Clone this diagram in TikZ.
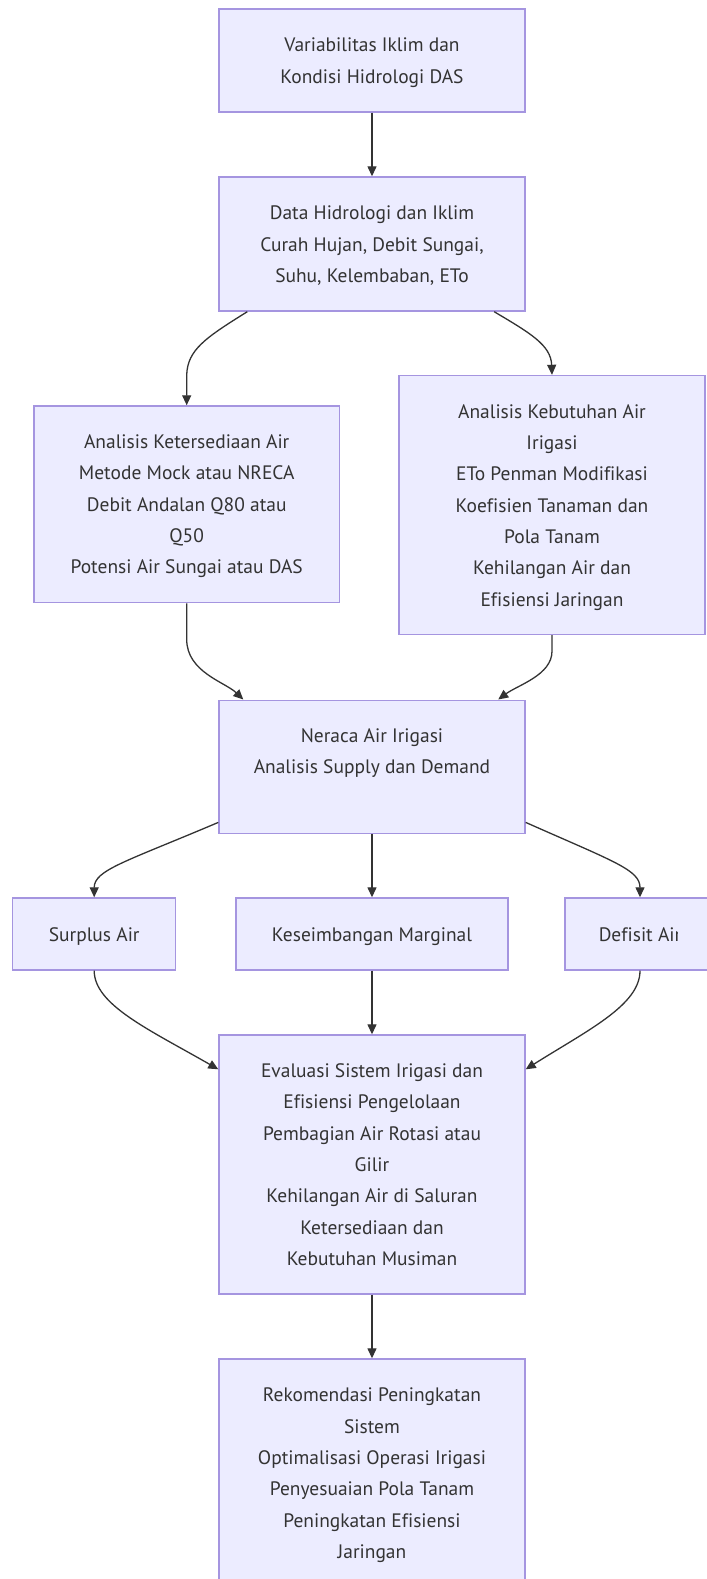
\documentclass[tikz,border=0pt]{standalone}
\usepackage{fontspec}
\setmainfont{PT Sans}[Ligatures=NoCommon]
\usetikzlibrary{arrows.meta,calc}
\definecolor{nodefill}{HTML}{ECECFF}
\definecolor{nodeborder}{HTML}{A595E0}
\definecolor{inkc}{HTML}{333333}
\newcommand\fl{\rule{0pt}{14pt}}
\newcommand\lst{\rule[-3.5pt]{0pt}{3.5pt}}
\tikzset{
  box/.style={rectangle, draw=nodeborder, fill=nodefill, line width=1.05pt,
    text=inkc, align=center, inner sep=0pt,
    font=\fontsize{14.6pt}{23.5pt}\selectfont},
  boxtext/.style={text=inkc, align=center, inner sep=0pt,
    font=\fontsize{14.6pt}{23.5pt}\selectfont},
  conn/.style={draw=inkc, line width=0.975pt,
    -{Triangle[length=7.5pt,width=6.75pt]}},
}
\begin{document}
\begin{tikzpicture}[x=0.75pt,y=-0.75pt]
\clip (0,0) rectangle (707,1579);
\fill[white] (0,0) rectangle (707,1579);

\node[box, minimum width=229.5pt, minimum height=77.25pt] (b1) at (372,60.5)
  {\fl Variabilitas Iklim dan\\Kondisi Hidrologi DAS\lst};
\node[box, minimum width=229.5pt, minimum height=100.5pt] (b2) at (372,244)
  {\fl Data Hidrologi dan Iklim\\Curah Hujan, Debit Sungai,\\Suhu, Kelembaban, ETo\lst};
\node[box, minimum width=229pt, minimum height=147.5pt] (b3) at (186.7,504.3)
  {\fl Analisis Ketersediaan Air\\Metode Mock atau NRECA\\Debit Andalan Q80 atau\\Q50\\Potensi Air Sungai atau DAS\lst};
\node[box, minimum width=229.5pt, minimum height=194.25pt] (b4) at (552,505)
  {\fl Analisis Kebutuhan Air\\Irigasi\\ETo Penman Modifikasi\\Koefisien Tanaman dan\\Pola Tanam\\Kehilangan Air dan\\Efisiensi Jaringan\lst};
\node[box, minimum width=229.5pt, minimum height=99.75pt] (b5) at (372,766.7)
  {\fl Neraca Air Irigasi\\Analisis Supply dan Demand\\\lst};
\node[box, minimum width=122.25pt, minimum height=54pt] (s) at (94.2,934)
  {\fl Surplus Air\lst};
\node[box, minimum width=203.75pt, minimum height=54pt] (k) at (372,934)
  {\fl Keseimbangan Marginal\lst};
\node[box, minimum width=112.5pt, minimum height=54pt] (d) at (640,934) {};
\begin{scope}
  \clip (d.north west) rectangle (677.5,970);
  \node[boxtext] (dt) at (d.center) {\fl Defisit Air\lst};
\end{scope}
\node[box, minimum width=229.5pt, minimum height=194.25pt] (e) at (372,1164.5)
  {\fl Evaluasi Sistem Irigasi dan\\Efisiensi Pengelolaan\\Pembagian Air Rotasi atau\\Gilir\\Kehilangan Air di Saluran\\Ketersediaan dan\\Kebutuhan Musiman\lst};
\node[box, minimum width=229.5pt, minimum height=171pt] (r) at (372,1473)
  {\fl Rekomendasi Peningkatan\\Sistem\\Optimalisasi Operasi Irigasi\\Penyesuaian Pola Tanam\\Peningkatan Efisiensi\\Jaringan\lst};

\draw[conn] (b1.south) -- (b2.north);
\draw[conn] ($(b2.south west)+(29,0)$) .. controls (205,338) and (187.5,350) .. (186.7,375) -- (b3.north);
\draw[conn] ($(b2.south east)+(-31.5,0)$) .. controls (530,333) and (551,345) .. (b4.north);
\draw[conn] (b3.south) -- ++(0,36) .. controls (186.7,672) and (225,682) .. ($(b5.north west)+(25,0)$);
\draw[conn] (b4.south) -- ++(0,16) .. controls (552,675) and (518,685) .. ($(b5.north east)+(-27.5,0)$);
\draw[conn] ($(b5.south west)+(0,-11.5)$) .. controls (125,862) and (94.2,870) .. (s.north);
\draw[conn] (b5.south) -- (k.north);
\draw[conn] ($(b5.south east)+(0,-11.5)$) .. controls (615,862) and (640,870) .. (d.north);
\draw[conn] (s.south) .. controls (94.2,1005) and (150,1030) .. ($(e.north west)+(0,35)$);
\draw[conn] (k.south) -- (e.north);
\draw[conn] (d.south) .. controls (640,1005) and (588,1030) .. ($(e.north east)+(0,35)$);
\draw[conn] (e.south) -- (r.north);
\end{tikzpicture}
\end{document}
